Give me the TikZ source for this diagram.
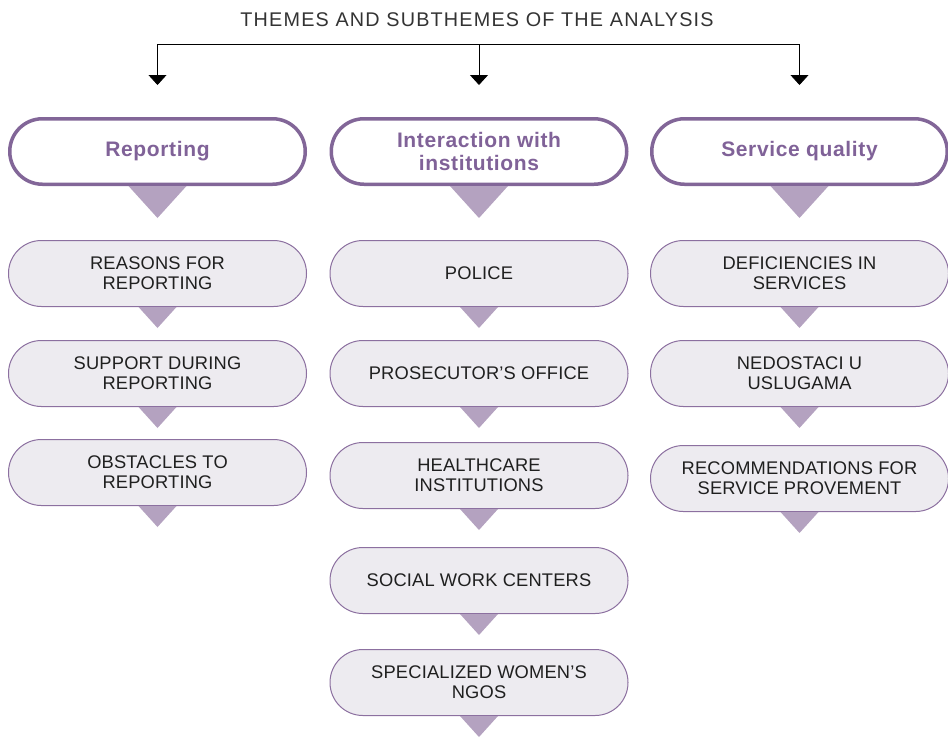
\documentclass[tikz,border=0pt]{standalone}
\usepackage{fontspec}
\setmainfont{Liberation Sans}
\newfontfamily\titlefont[LetterSpace=6]{Liberation Sans}
\newfontfamily\headfont[LetterSpace=3]{Liberation Sans}
\newfontfamily\boxfont[LetterSpace=1]{Liberation Sans}
\usetikzlibrary{positioning, arrows.meta}

\definecolor{themeline}{RGB}{130,102,152}
\definecolor{themetext}{RGB}{128,98,152}
\definecolor{tipfill}{RGB}{180,162,192}
\definecolor{subfill}{RGB}{237,235,240}
\definecolor{subline}{RGB}{140,112,160}

% little triangle hanging under a box: node, half width, depth
\newcommand{\droptip}[3]{\fill[tipfill] ([xshift=-#2]#1.south) -- ([xshift=#2]#1.south) -- ([yshift=-#3]#1.south) -- cycle;}

\begin{document}
\begin{tikzpicture}[x=1pt,y=1pt,>={Triangle[width=18pt,length=10pt]},node distance=33pt,
  theme/.style={draw=themeline, line width=3.5pt, fill=white, rounded corners=32.7pt,
    minimum width=295.5pt, minimum height=65.5pt, inner sep=2pt, align=center,
    text=themetext, font=\headfont\fontsize{21}{23}\selectfont\bfseries},
  subtheme/.style={draw=subline, line width=1pt, fill=subfill, rounded corners=32.9pt,
    minimum width=298pt, minimum height=66pt, inner sep=2pt, align=center,
    text=black!88, font=\boxfont\fontsize{18.3}{20}\selectfont}]
\useasboundingbox (0,0) rectangle (948,-737);

% title and the bracket down to the three themes
  \node[text=black!80] (title) at (477,-20) {\titlefont\fontsize{19.8}{20}\selectfont THEMES AND SUBTHEMES OF THE ANALYSIS};

  \node[theme] (rep)  at (157.5,-151.5) {Reporting};
  \node[theme] (inst) at (479,-151.5)   {Interaction with\\institutions};
  \node[theme] (serv) at (799.5,-151.5) {Service quality};

  \coordinate (bar) at (478,-44);
  \draw[line width=0.8pt] (bar -| rep) -- (bar -| serv);
  \foreach \h in {rep,inst,serv}
    \draw[->,line width=0.8pt] (bar -| \h) -- ([yshift=32pt]\h.north);

% subthemes, one column per theme
  \node[subtheme] (rep1) [below=54pt of rep]  {REASONS FOR\\REPORTING};
  \node[subtheme] (rep2) [below=of rep1]      {SUPPORT DURING\\REPORTING};
  \node[subtheme] (rep3) [below=32pt of rep2] {OBSTACLES TO\\REPORTING};

  \node[subtheme] (inst1) [below=54pt of inst]  {POLICE};
  \node[subtheme] (inst2) [below=of inst1]      {PROSECUTOR’S OFFICE};
  \node[subtheme] (inst3) [below=35pt of inst2] {HEALTHCARE\\INSTITUTIONS};
  \node[subtheme] (inst4) [below=38pt of inst3] {SOCIAL WORK CENTERS};
  \node[subtheme] (inst5) [below=35pt of inst4] {SPECIALIZED WOMEN’S\\NGOS};

  \node[subtheme] (serv1) [below=54pt of serv]  {DEFICIENCIES IN\\SERVICES};
  \node[subtheme] (serv2) [below=of serv1]      {NEDOSTACI U\\USLUGAMA};
  \node[subtheme] (serv3) [below=38pt of serv2] {RECOMMENDATIONS FOR\\SERVICE PROVEMENT};

% pointers under every box
  \foreach \h in {rep,inst,serv}
    {\droptip{\h}{29pt}{32pt}}
  \foreach \s in {rep1,rep2,rep3,inst1,inst2,inst3,inst4,inst5,serv1,serv2,serv3}
    {\droptip{\s}{19pt}{21pt}}

\end{tikzpicture}
\end{document}
